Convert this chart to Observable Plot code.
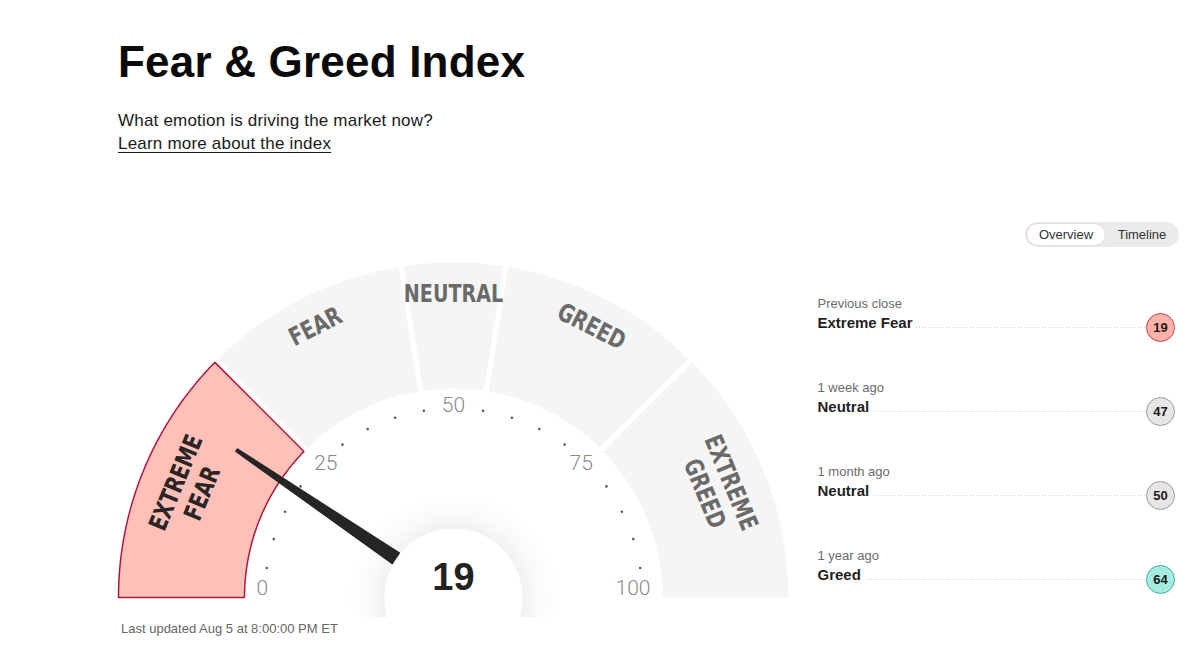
<!DOCTYPE html>
<html><head><meta charset="utf-8">
<script src="https://cdn.jsdelivr.net/npm/d3@7"></script>
<script src="https://cdn.jsdelivr.net/npm/@observablehq/plot@0.6"></script>
<style>
html,body{margin:0;padding:0;background:#fff;}
body{width:1200px;height:646px;position:relative;overflow:hidden;font-family:"Liberation Sans",Arial,sans-serif;color:#111;}
.abs{position:absolute;white-space:nowrap;}
#title{left:118px;top:40px;font-size:44px;line-height:44px;font-weight:700;color:#0a0a0a;letter-spacing:0.2px;}
#sub{left:118px;top:112px;font-size:17px;line-height:17px;color:#1a1a1a;letter-spacing:0.2px;}
#link{left:118px;top:135px;font-size:17px;line-height:17px;color:#1a1a1a;letter-spacing:0.2px;text-decoration:underline;text-underline-offset:3px;}
#toggle{left:1025px;top:222px;width:154px;height:25px;border-radius:13px;background:#ebebeb;}
#ovr{left:1027px;top:224px;width:78px;height:21px;border-radius:11px;background:#fff;box-shadow:0 0 2px rgba(0,0,0,0.18);}
.tg{top:224px;height:21px;line-height:21px;font-size:13px;color:#333;text-align:center;}
#gauge{left:103px;top:252px;}
#hist{left:810px;top:285px;}
#updated{left:121px;top:622px;font-size:13px;line-height:14px;color:#666;}
</style></head>
<body>
<div id="title" class="abs">Fear &amp; Greed Index</div>
<div id="sub" class="abs">What emotion is driving the market now?</div>
<div id="link" class="abs">Learn more about the index</div>
<div id="toggle" class="abs"></div>
<div id="ovr" class="abs"></div>
<div class="abs tg" style="left:1027px;width:78px;">Overview</div>
<div class="abs tg" style="left:1105px;width:74px;">Timeline</div>
<div id="gauge" class="abs"></div>
<div id="hist" class="abs"></div>
<div id="updated" class="abs"></div>
<script>
// ---- data ----
const segmentNames = ["EXTREME\nFEAR", "FEAR", "NEUTRAL", "GREED", "EXTREME\nGREED"];
const segmentStarts = [0, 25, 45, 55, 75];
const segmentEnds = [25, 45, 55, 75, 100];
const currentValue = 19;
const majorTicks = [0, 25, 50, 75, 100];
const minorTicks = [5, 10, 15, 20, 30, 35, 40, 45, 55, 60, 65, 70, 80, 85, 90, 95];
const historyPeriods = ["Previous close", "1 week ago", "1 month ago", "1 year ago"];
const historyRatings = ["Extreme Fear", "Neutral", "Neutral", "Greed"];
const historyValues = [19, 47, 50, 64];
const updatedText = "Last updated Aug 5 at 8:00:00 PM ET";

document.getElementById("updated").textContent = updatedText;

// ---- geometry (styling constants) ----
const R_OUT = 335, R_IN = 209, GAP = 5, R_DOT = 189, R_LABEL = 197;
const R_NEEDLE_BASE = 70, R_NEEDLE_TIP = 262, R_HUB = 69;
const theta = v => Math.PI * (1 - v / 100);

function segPolygon(a, b, name) {
  const n = 72, pts = [];
  const off = (r, edge) => edge ? Math.asin(GAP / 2 / r) : 0;
  const t0o = theta(a) - off(R_OUT, a > 0), t1o = theta(b) + off(R_OUT, b < 100);
  const t0i = theta(a) - off(R_IN, a > 0), t1i = theta(b) + off(R_IN, b < 100);
  for (let i = 0; i <= n; i++) { const t = t0o + (t1o - t0o) * i / n; pts.push({name, x: R_OUT * Math.cos(t), y: R_OUT * Math.sin(t)}); }
  for (let i = 0; i <= n; i++) { const t = t1i + (t0i - t1i) * i / n; pts.push({name, x: R_IN * Math.cos(t), y: R_IN * Math.sin(t)}); }
  pts.push({...pts[0]});
  return pts;
}

const segments = segmentNames.map((name, i) => ({
  name, from: segmentStarts[i], to: segmentEnds[i],
  active: currentValue >= segmentStarts[i] && currentValue < segmentEnds[i]
}));
const activePts = segments.filter(s => s.active).flatMap(s => segPolygon(s.from, s.to, s.name));
const idlePts = segments.filter(s => !s.active).flatMap(s => segPolygon(s.from, s.to, s.name));

const segLabels = segments.map(s => {
  const mid = (s.from + s.to) / 2, t = theta(mid);
  const r = s.name.includes("\n") ? 287 : 305;
  return {...s, x: r * Math.cos(t), y: r * Math.sin(t), rotate: 90 - t * 180 / Math.PI};
});

// needle polygon
const nt = theta(currentValue);
const ux = Math.cos(nt), uy = Math.sin(nt), px = -Math.sin(nt), py = Math.cos(nt);
const needlePts = [
  {x: R_NEEDLE_BASE * ux + 6 * px, y: R_NEEDLE_BASE * uy + 6 * py},
  {x: R_NEEDLE_TIP * ux + 1.2 * px, y: R_NEEDLE_TIP * uy + 1.2 * py},
  {x: R_NEEDLE_TIP * ux - 1.2 * px, y: R_NEEDLE_TIP * uy - 1.2 * py},
  {x: R_NEEDLE_BASE * ux - 6 * px, y: R_NEEDLE_BASE * uy - 6 * py}
];
needlePts.push({...needlePts[0]});

const labelFont = '"DejaVu Sans Condensed","Liberation Sans Narrow","Roboto Condensed",sans-serif';

const tickLabelMarks = majorTicks.map(v => {
  const t = theta(v), c = Math.cos(t), s = Math.sin(t);
  return Plot.text([v], {
    x: d => R_LABEL * Math.cos(theta(d)), y: d => R_LABEL * Math.sin(theta(d)),
    text: d => String(d),
    textAnchor: c < -0.3 ? "start" : c > 0.3 ? "end" : "middle",
    lineAnchor: s < 0.3 ? "bottom" : "top",
    dy: -3, fontSize: 21, fontWeight: 300, fill: "#8a8a8a", fontFamily: "Roboto, sans-serif"
  });
});

const gauge = Plot.plot({
  width: 700, height: 365, margin: 0,
  x: {domain: [-350, 350], axis: null},
  y: {domain: [-20, 345], axis: null},
  style: {background: "transparent", overflow: "hidden"},
  marks: [
    Plot.line(idlePts, {x: "x", y: "y", z: "name", fill: "#f5f5f5", stroke: "none"}),
    Plot.line(activePts, {x: "x", y: "y", z: "name", fill: "#ffc1b7", stroke: "#b0173f", strokeWidth: 1.5, strokeLinejoin: "miter"}),
    Plot.text(segLabels.filter(d => !d.active), {x: "x", y: "y", text: "name", rotate: "rotate", fontSize: 25, fontWeight: 700, fill: "#6a6a6a", fontFamily: labelFont, lineHeight: 1.14}),
    Plot.text(segLabels.filter(d => d.active), {x: "x", y: "y", text: "name", rotate: "rotate", fontSize: 25, fontWeight: 700, fill: "#2a2424", fontFamily: labelFont, lineHeight: 1.14}),
    Plot.dot(minorTicks, {x: d => R_DOT * Math.cos(theta(d)), y: d => R_DOT * Math.sin(theta(d)), r: 1.3, fill: "#5a5a5a", stroke: null}),
    ...tickLabelMarks,
    Plot.dot([currentValue], {x: () => 0, y: () => 0, r: 106, fill: "url(#fgHalo)", stroke: null}),
    Plot.line(needlePts, {x: "x", y: "y", fill: "#262626", stroke: "#262626", strokeWidth: 2, strokeLinejoin: "round"}),
    Plot.dot([currentValue], {x: () => 0, y: () => 0, r: R_HUB, fill: "#ffffff", stroke: null}),
    Plot.text([currentValue], {x: () => 0, y: () => 0, dy: -20, text: d => String(d), fontSize: 38, fontWeight: 700, fill: "#222", fontFamily: '"Liberation Sans", Arial, sans-serif'})
  ]
});
gauge.insertAdjacentHTML("afterbegin",
  '<defs><radialGradient id="fgHalo" cx="0.5" cy="0.5" r="0.5">' +
  '<stop offset="0.6" stop-color="#000" stop-opacity="0.07"/>' +
  '<stop offset="0.66" stop-color="#000" stop-opacity="0.05"/>' +
  '<stop offset="0.8" stop-color="#000" stop-opacity="0.02"/>' +
  '<stop offset="1" stop-color="#000" stop-opacity="0"/>' +
  '</radialGradient></defs>');
// condense the segment labels horizontally (styling only)
const labelTexts = new Set(segmentNames.map(s => s.replace("\n", "")));
gauge.querySelectorAll("text").forEach(el => {
  if (!labelTexts.has(el.textContent.replace(/\s/g, ""))) return;
  const tr = el.getAttribute("transform");
  if (tr) {
    el.setAttribute("transform", tr + " scale(0.85,1)");
  } else {
    const parentTr = el.parentNode.getAttribute("transform") || "";
    el.setAttribute("transform", "scale(0.85,1)");
  }
});
document.getElementById("gauge").append(gauge);

// ---- history panel ----
const ratingFill = {"Extreme Fear": "#ffb1aa", "Fear": "#ffd0c4", "Neutral": "#e6e6e6", "Greed": "#a6ebdf", "Extreme Greed": "#7fdccb"};
const ratingStroke = {"Extreme Fear": "#c9424b", "Fear": "#d0806f", "Neutral": "#9a9a9a", "Greed": "#3fae9e", "Extreme Greed": "#2b9080"};
const rows = historyPeriods.map((p, i) => i);
const rowY = i => historyPeriods[i];

const hist = Plot.plot({
  width: 380, height: 310, marginTop: 42, marginBottom: 16, marginLeft: 7, marginRight: 30,
  y: {type: "point", domain: historyPeriods, axis: null, padding: 0},
  color: {type: "identity"},
  style: {background: "transparent", overflow: "visible"},
  marks: [
    Plot.ruleY(rows, {y: rowY, stroke: "#cfcfcf", strokeDasharray: "1 2", strokeWidth: 1}),
    Plot.text(rows, {y: rowY, frameAnchor: "left", textAnchor: "start", dy: -4, text: i => historyRatings[i], fontSize: 15, fontWeight: 700, fill: "#1f1f1f", stroke: "white", strokeWidth: 12, strokeLinejoin: "round", fontFamily: '"Liberation Sans", Arial, sans-serif'}),
    Plot.text(rows, {y: rowY, frameAnchor: "left", textAnchor: "start", dy: -24, text: i => historyPeriods[i], fontSize: 13, fill: "#6b6b6b", fontFamily: '"Liberation Sans", Arial, sans-serif'}),
    Plot.dot(rows, {y: rowY, frameAnchor: "right", r: 14, fill: i => ratingFill[historyRatings[i]], stroke: i => ratingStroke[historyRatings[i]], strokeWidth: 1}),
    Plot.text(rows, {y: rowY, frameAnchor: "right", textAnchor: "middle", text: i => String(historyValues[i]), fontSize: 13, fontWeight: 700, fill: "#1a1a1a", fontFamily: '"Liberation Sans", Arial, sans-serif'})
  ]
});
document.getElementById("hist").append(hist);
</script>
</body></html>
